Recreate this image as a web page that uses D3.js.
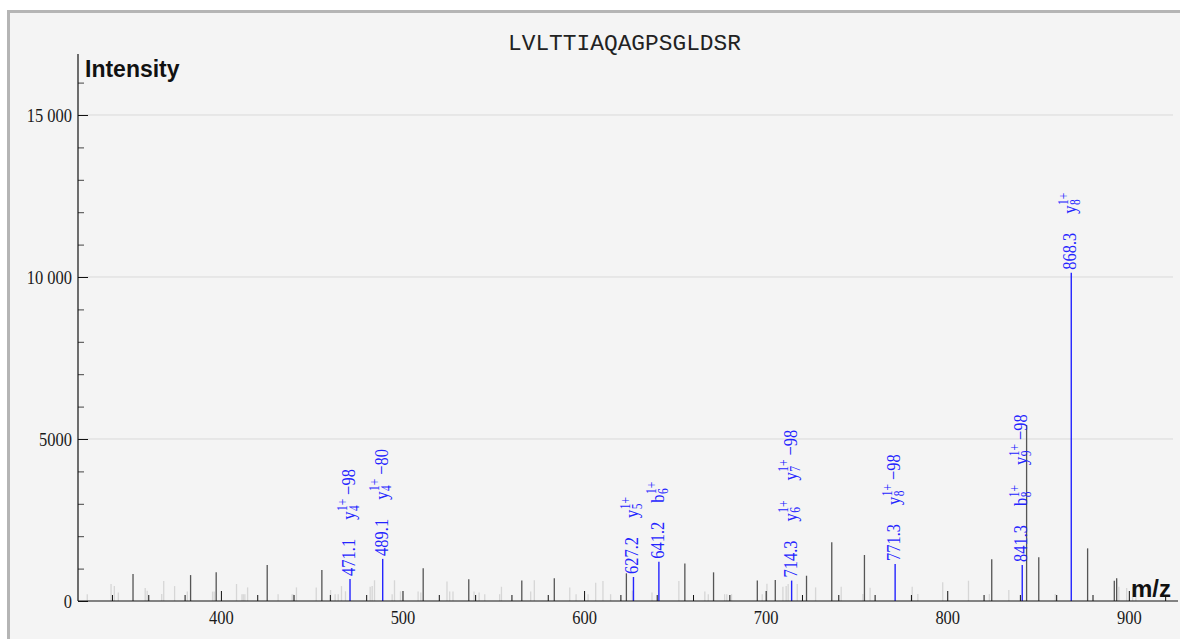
<!DOCTYPE html>
<html>
<head>
<meta charset="utf-8">
<script src="https://cdn.jsdelivr.net/npm/d3@7"></script>
<style>
html,body{margin:0;padding:0;background:#fff;overflow:hidden;}
svg{display:block;}
</style>
</head>
<body>
<svg id="chart" width="1180" height="639"></svg>
<script>
// ---------------- data ----------------
const title = "LVLTTIAQAGPSGLDSR";
const xTickValues = [400, 500, 600, 700, 800, 900];
const yTickValues = [0, 5000, 10000, 15000];
const yGridValues = [5000, 10000, 15000];

// annotated (matched) peaks
const matchedMz  = [471.1, 489.1, 627.2, 641.2, 714.3, 771.3, 841.3, 868.3];
const matchedInt = [680, 1300, 740, 1210, 630, 1140, 1110, 10130];
const matchedIons = [
  ["y4^1+ −98"],
  ["y4^1+ −80"],
  ["y5^1+"],
  ["b6^1+"],
  ["y6^1+", "y7^1+ −98"],
  ["y8^1+ −98"],
  ["b8^1+", "y9^1+ −98"],
  ["y8^1+"]
];

// unmatched peaks (dark gray)
const darkMz  = [351.6, 383.3, 397.4, 425.5, 455.6, 511.4, 536.5, 565.7, 583.6, 623.3, 655.5, 671.3,
                 695.4, 705.3, 722.5, 736.4, 754.4, 824.5, 843.7, 850.4, 877.3, 892.0, 893.3];
const darkInt = [830, 800, 890, 1110, 960, 1010, 670, 630, 700, 855, 1160, 885,
                 630, 650, 780, 1810, 1420, 1290, 5430, 1350, 1625, 625, 700];

// low peaks (light gray)
const lightMz  = [326.4, 339.5, 341.3, 343.5, 358.3, 359.4, 367.4, 368.5, 374.5, 381.5, 395.4, 396.3,
                  408.6, 411.6, 412.3, 413.2, 414.7, 431.5, 439.2, 439.8, 441.6, 452.5, 460.4, 462.9,
                  464.6, 466.4, 468.6, 482.2, 483.3, 484.6, 494.3, 495.6, 498.9, 508.6, 510.1, 524.5,
                  526.0, 527.8, 539.4, 542.2, 545.3, 553.5, 554.5, 570.6, 572.6, 592.1, 595.6, 602.2,
                  606.4, 610.4, 614.6, 626.6, 637.4, 652.2, 666.5, 668.4, 677.4, 678.6, 681.2, 698.1,
                  700.7, 709.5, 711.3, 712.4, 717.4, 727.5, 741.6, 753.5, 757.5, 780.7, 783.8, 797.5,
                  811.7, 823.2, 833.9, 859.5, 894.5, 898.8, 902.1, 903.9];
const lightInt = [210, 525, 460, 260, 400, 320, 215, 615, 460, 290, 290, 290,
                  525, 210, 210, 210, 420, 210, 210, 210, 420, 420, 340, 210,
                  210, 460, 300, 440, 460, 640, 210, 640, 300, 290, 260, 600,
                  290, 290, 290, 260, 210, 210, 440, 290, 640, 420, 210, 210,
                  560, 615, 210, 320, 260, 615, 290, 210, 210, 210, 210, 210,
                  530, 440, 460, 525, 525, 420, 440, 215, 410, 440, 215, 575,
                  625, 215, 340, 215, 440, 400, 440, 400];

// ---------------- drawing ----------------
const svg = d3.select("#chart");
const serif = "'Liberation Serif','Times New Roman',serif";
const sans = "'Liberation Sans',Arial,sans-serif";
const blue = "#2424ff";

// frame
svg.append("rect").attr("x", 8.5).attr("y", 11.5).attr("width", 1190).attr("height", 650)
  .attr("fill", "#f4f4f4").attr("stroke", "#b5b5b5").attr("stroke-width", 3);

const x = d3.scaleLinear().domain([321.3, 924.6]).range([78, 1173.5]);
const y = d3.scaleLinear().domain([0, 16852]).range([601, 55]);

// grid
svg.append("g").selectAll("line").data(yGridValues).join("line")
  .attr("x1", 78).attr("x2", 1173).attr("y1", d => y(d)).attr("y2", d => y(d))
  .attr("stroke", "#d9d9d9").attr("stroke-width", 1);

// title
svg.append("text").attr("x", 508).attr("y", 50)
  .attr("font-family", "'Liberation Mono','Courier New',monospace").attr("font-size", 22.5)
  .attr("textLength", 233).attr("lengthAdjust", "spacingAndGlyphs")
  .attr("fill", "#222").text(title);

// peaks
const peaks = svg.append("g");
peaks.selectAll("line.light").data(d3.zip(lightMz, lightInt)).join("line").attr("class", "light")
  .attr("x1", d => x(d[0])).attr("x2", d => x(d[0])).attr("y1", y(0)).attr("y2", d => y(d[1]))
  .attr("stroke", "#d6d6d6").attr("stroke-width", 1.3);
peaks.selectAll("line.dark").data(d3.zip(darkMz, darkInt)).join("line").attr("class", "dark")
  .attr("x1", d => x(d[0])).attr("x2", d => x(d[0])).attr("y1", y(0)).attr("y2", d => y(d[1]))
  .attr("stroke", "#555").attr("stroke-width", 1.3);
peaks.selectAll("line.match").data(d3.zip(matchedMz, matchedInt)).join("line").attr("class", "match")
  .attr("x1", d => x(d[0])).attr("x2", d => x(d[0])).attr("y1", y(0)).attr("y2", d => y(d[1]))
  .attr("stroke", blue).attr("stroke-width", 1.4);

// axes
const fmtY = v => v >= 10000 ? d3.format(",")(v).replace(/,/g, " ") : String(v);

const xMinor = d3.range(340, 921, 20).filter(v => v % 100 !== 0);
svg.append("g").attr("transform", `translate(0,${y(0)})`)
  .call(d3.axisBottom(x).tickValues(xMinor).tickSize(-6).tickFormat(""))
  .call(g => g.select(".domain").remove())
  .call(g => g.selectAll("line").attr("stroke", "#111"));
svg.append("g").attr("transform", `translate(0,${y(0)})`)
  .call(d3.axisBottom(x).tickValues(xTickValues).tickSize(-10).tickFormat(d3.format("d")))
  .call(g => g.select(".domain").remove())
  .call(g => g.selectAll("line").attr("stroke", "#111"))
  .call(g => g.selectAll("text").attr("y", null).attr("dy", null)
     .attr("transform", "translate(0,22.5) scale(1,1.12)")
     .attr("font-family", serif).attr("font-size", 16.5).attr("fill", "#1a1a1a"));

const yMinor = d3.range(1000, 16001, 1000).filter(v => v % 5000 !== 0);
svg.append("g").attr("transform", `translate(78,0)`)
  .call(d3.axisLeft(y).tickValues(yMinor).tickSize(-6).tickFormat(""))
  .call(g => g.select(".domain").remove())
  .call(g => g.selectAll("line").attr("stroke", "#444"));
svg.append("g").attr("transform", `translate(78,0)`)
  .call(d3.axisLeft(y).tickValues(yTickValues).tickSize(-10).tickFormat(fmtY))
  .call(g => g.select(".domain").remove())
  .call(g => g.selectAll("line").attr("stroke", "#111"))
  .call(g => g.selectAll("text").attr("x", null).attr("dy", null)
     .attr("transform", "translate(-6,6.5) scale(1,1.12)").attr("text-anchor", "end")
     .attr("font-family", serif).attr("font-size", 16.5).attr("fill", "#1a1a1a"));

// axis lines
svg.append("line").attr("x1", 78).attr("x2", 1178).attr("y1", y(0)).attr("y2", y(0))
  .attr("stroke", "#111").attr("stroke-width", 1.2);
svg.append("line").attr("x1", 78).attr("x2", 78).attr("y1", 54).attr("y2", y(0))
  .attr("stroke", "#111").attr("stroke-width", 1.2);

// axis titles
svg.append("text").attr("x", 85).attr("y", 77).attr("font-family", sans).attr("font-weight", "bold")
  .attr("font-size", 23).attr("fill", "#111").text("Intensity");
svg.append("text").attr("x", 1131).attr("y", 597).attr("font-family", sans).attr("font-weight", "bold")
  .attr("font-size", 24).attr("fill", "#111").text("m/z");

// peak annotations (rotated)
const BIG = 16.5, SMALL = 11.5;
matchedMz.forEach((mz, i) => {
  const px = x(mz), top = y(matchedInt[i]);
  const g = svg.append("g")
    .attr("transform", `translate(${px + 5},${top - 3}) rotate(-90) scale(1,1.2)`)
    .attr("font-family", serif).attr("fill", blue);
  const v = g.append("text").attr("x", 0).attr("y", 0).attr("font-size", BIG).text(mz.toFixed(1));
  let cursor = v.node().getComputedTextLength() + 19;
  matchedIons[i].forEach(lab => {
    const m = lab.match(/^([a-z])(\d+)\^(\S+)(?: (.*))?$/);
    const t1 = g.append("text").attr("x", cursor).attr("y", 0).attr("font-size", BIG).text(m[1]);
    const w1 = t1.node().getComputedTextLength();
    const sub = g.append("text").attr("x", cursor + w1 + 0.5).attr("y", 3).attr("font-size", SMALL).text(m[2]);
    const sup = g.append("text").attr("x", cursor + w1 + 0.5).attr("y", -7).attr("font-size", SMALL).text(m[3]);
    let w = w1 + 0.5 + Math.max(sub.node().getComputedTextLength(), sup.node().getComputedTextLength());
    if (m[4]) {
      const t2 = g.append("text").attr("x", cursor + w + 4).attr("y", 0).attr("font-size", BIG).text(m[4]);
      w += 4 + t2.node().getComputedTextLength();
    }
    cursor += w + 20;
  });
});
</script>
</body>
</html>
